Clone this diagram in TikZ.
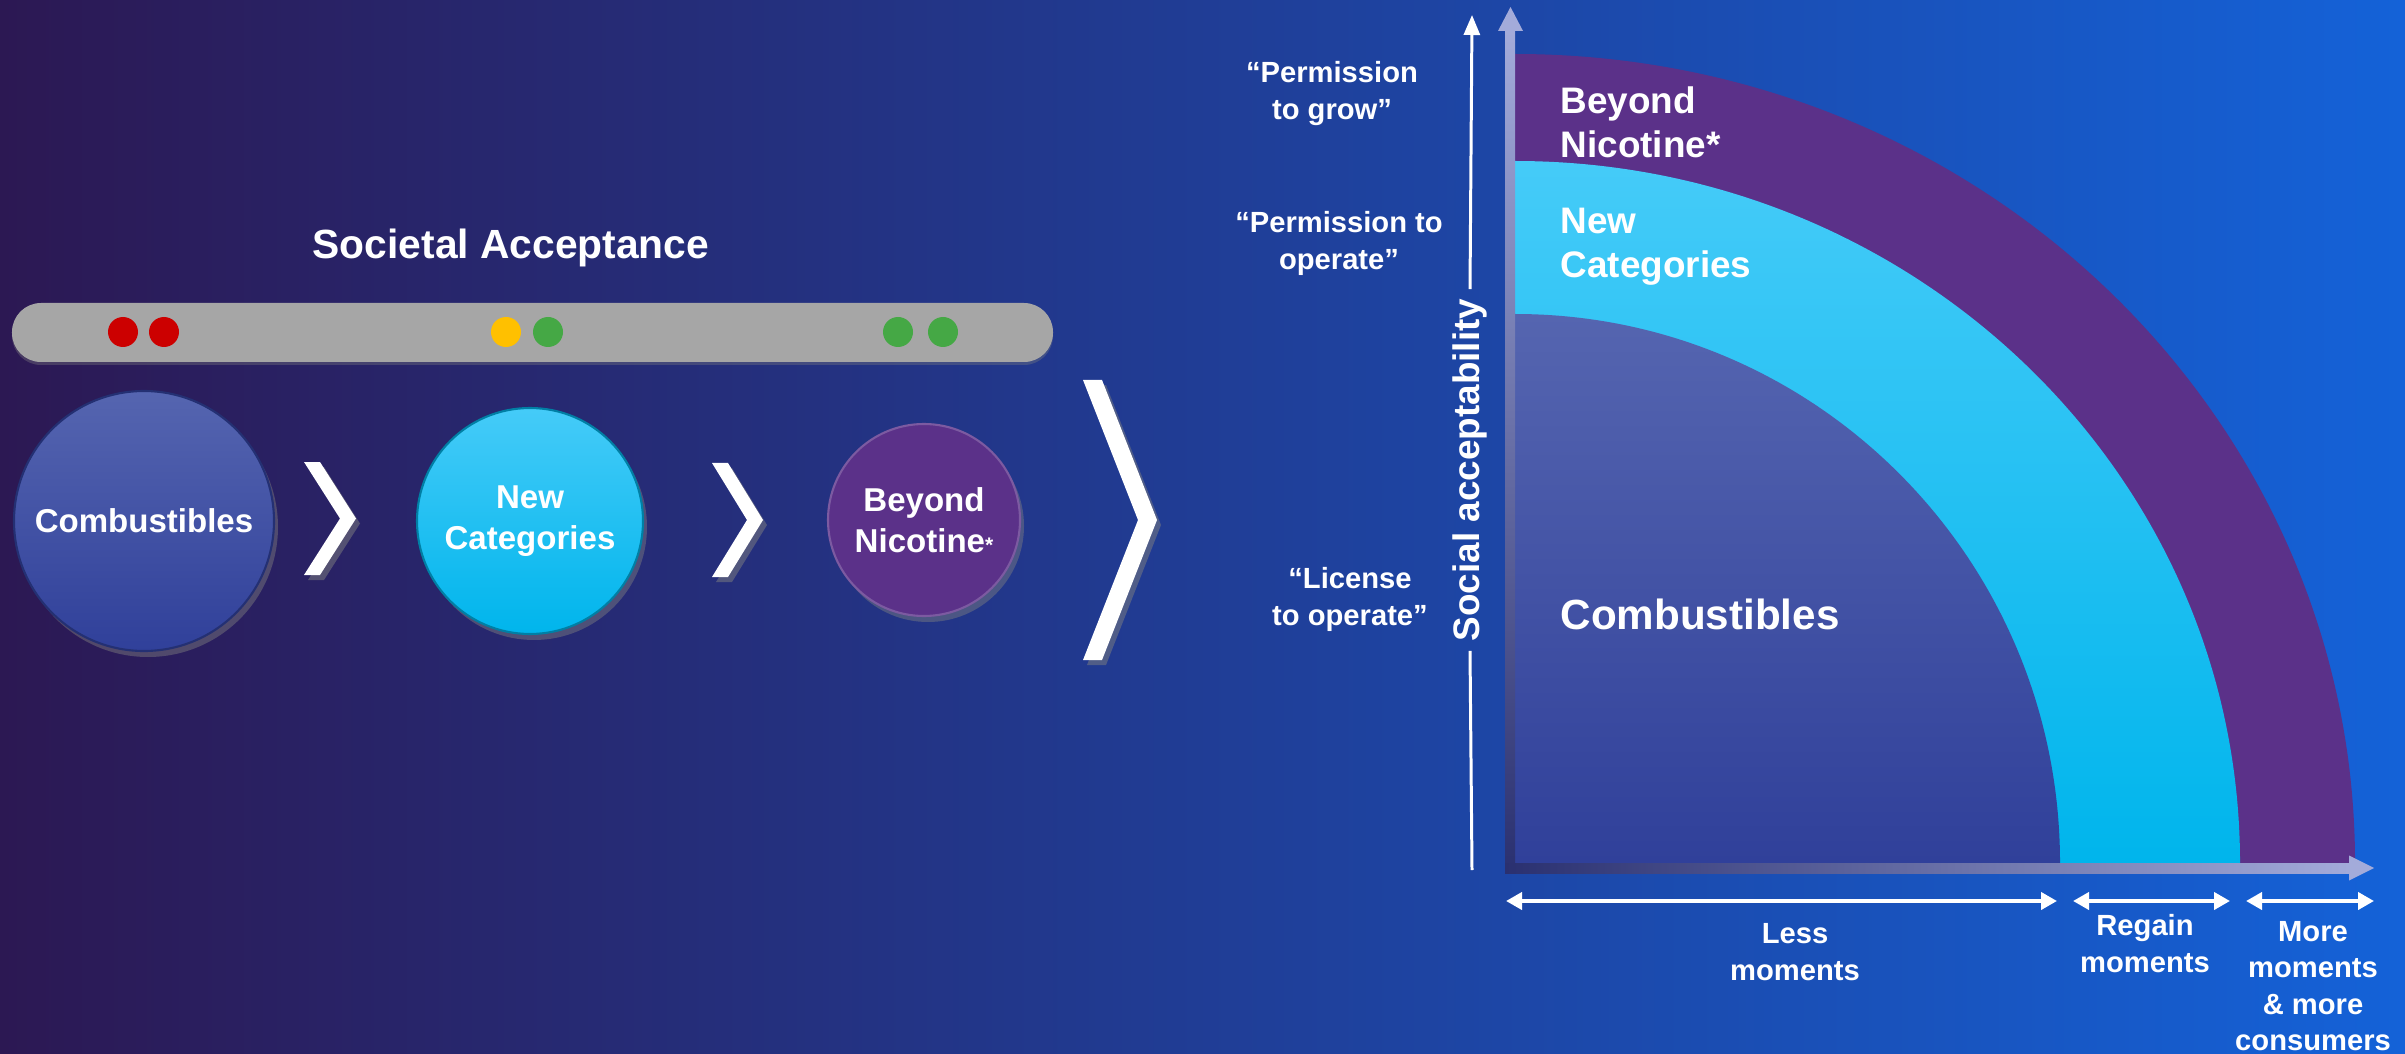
\documentclass[tikz,border=0pt]{standalone}
\usepackage{fontspec}
\setmainfont{Liberation Sans}
\usetikzlibrary{calc,shadows,arrows.meta}

\definecolor{bgleft}{HTML}{2C1853}
\definecolor{bgmid}{HTML}{20347A}
\definecolor{bgright}{HTML}{1462D8}
\definecolor{barGray}{HTML}{A6A6A6}
\definecolor{dotred}{HTML}{CC0000}
\definecolor{dotamber}{HTML}{FFC000}
\definecolor{dotgreen}{HTML}{45A845}
\definecolor{combTop}{HTML}{5565B0}
\definecolor{combBot}{HTML}{30409A}
\definecolor{ncTop}{HTML}{45CBF8}
\definecolor{ncBot}{HTML}{00B5EC}
\definecolor{bnFill}{HTML}{5B3189}
\definecolor{axisDark}{HTML}{2A3070}
\definecolor{axisLight}{HTML}{A3ABDA}

\def\chevron(#1)(#2:#3:#4){\fill[white, drop shadow={opacity=0.5, shadow xshift=0.04cm, shadow yshift=-0.05cm}] ($(#1)+(0,#2)$) -- ($(#1)+(#4,#2)$) -- ($(#1)+(#3,0)$) -- ($(#1)+(#4,-#2)$) -- ($(#1)+(0,-#2)$) -- ($(#1)+(#3-#4,0)$) -- cycle;}

\tikzset{
  bubble/.style={circle, inner sep=0, text=white, align=center, line width=0.6pt,
    font=\bfseries\fontsize{9.4}{11.7}\selectfont,
    drop shadow={opacity=0.45, shadow xshift=0.04cm, shadow yshift=-0.06cm}},
  axislab/.style={text=white, align=center, inner sep=0, font=\bfseries\fontsize{8.3}{10.4}\selectfont},
  bandlab/.style={text=white, align=left, anchor=west, inner sep=0, font=\bfseries\fontsize{10.5}{12.6}\selectfont},
  span/.style={white, line width=1.1pt, {Triangle[length=0.16cm,width=0.17cm]}-{Triangle[length=0.16cm,width=0.17cm]}},
}

\begin{document}
\begin{tikzpicture}
			%%%%% START %%%%%
			
			\useasboundingbox (0,0) rectangle (24.05,10.53);
			\shade[left color=bgleft, middle color=bgmid, right color=bgright] (0,0) rectangle (24.05,10.53);
			
			% left: societal acceptance
			\node[text=white, font=\bfseries\fontsize{11.6}{14}\selectfont] (title) at (5.11,8.05) {Societal Acceptance};
			\fill[barGray, rounded corners=0.29cm, drop shadow={opacity=0.35, shadow xshift=0cm, shadow yshift=-0.03cm}] (0.12,6.91) rectangle (10.53,7.50);
			\foreach \x/\c in {1.23/dotred, 1.64/dotred, 5.06/dotamber, 5.48/dotgreen, 8.98/dotgreen, 9.43/dotgreen}
				\fill[\c] (\x,7.21) circle (0.15);
			
			\node[bubble, minimum size=2.60cm, top color=combTop, bottom color=combBot, draw=combBot!75!black] (comb) at (1.44,5.32) {Combustibles};
			\node[bubble, minimum size=2.26cm, top color=ncTop, bottom color=ncBot, draw=ncBot!70!black] (newcat) at (5.30,5.32) {New\\Categories};
			\node[bubble, minimum size=1.92cm, fill=bnFill, draw=bnFill!80!white] (beyond) at (9.24,5.33) {Beyond\\Nicotine{\fontsize{6}{6}\selectfont*}};
			
			\chevron(3.04,5.345)(0.565:0.52:0.16)
			\chevron(7.12,5.33)(0.57:0.51:0.16)
			\chevron(10.83,5.33)(1.40:0.74:0.19)
			
			% right: quarter bands
			\fill[bnFill] (15.15,1.90) -- (15.15,9.99) arc[start angle=90, end angle=0, x radius=8.40cm, y radius=8.09cm] -- cycle;
			\shade[top color=ncTop, bottom color=ncBot] (15.15,1.90) -- (15.15,8.92) arc[start angle=90, end angle=0, x radius=7.25cm, y radius=7.02cm] -- cycle;
			\shade[top color=combTop, bottom color=combBot] (15.15,1.90) -- (15.15,7.39) arc[start angle=90, end angle=0, x radius=5.45cm, y radius=5.49cm] -- cycle;
			
			\node[bandlab] (bnlab) at (15.60,9.31) {Beyond\\Nicotine*};
			\node[bandlab] (nclab) at (15.60,8.06) {New\\Categories};
			\node[bandlab, font=\bfseries\fontsize{12}{14}\selectfont] (comblab) at (15.60,4.39) {Combustibles};
			
			% thick axes
			\shade[bottom color=axisDark, top color=axisLight] (15.05,1.80) rectangle (15.15,10.22);
			\fill[axisLight] (14.98,10.22) -- (15.23,10.22) -- (15.105,10.46) -- cycle;
			\shade[left color=axisDark, right color=axisLight] (15.05,1.80) rectangle (23.49,1.90);
			\fill[axisLight] (23.49,1.725) -- (23.49,1.975) -- (23.74,1.85) -- cycle;
			
			% thin acceptability arrow
			\coordinate (ybot) at (14.72,1.83);
			\coordinate (ytop) at (14.72,10.38);
			\node[rotate=90, text=white, inner sep=0.09cm, font=\bfseries\fontsize{10.5}{12}\selectfont] (socacc) at (14.70,5.83) {Social acceptability};
			\draw[white, line width=0.85pt] (ybot) -- (socacc.west);
			\draw[white, line width=0.85pt, -{Triangle[length=0.2cm,width=0.16cm]}] (socacc.east) -- (ytop);
			
			\node[axislab] (grow) at (13.32,9.595) {“Permission\\to grow”};
			\node[axislab] (operate) at (13.39,8.095) {“Permission to\\operate”};
			\node[axislab] (license) at (13.50,4.535) {“License\\to operate”};
			
			% moments spans
			\coordinate (less1) at (15.06,1.52);
			\coordinate (less2) at (20.57,1.52);
			\coordinate (regain1) at (20.73,1.52);
			\coordinate (regain2) at (22.30,1.52);
			\coordinate (more1) at (22.46,1.52);
			\coordinate (more2) at (23.74,1.52);
			\draw[span] (less1) -- (less2);
			\draw[span] (regain1) -- (regain2);
			\draw[span] (more1) -- (more2);
			
			\node[axislab] (lesslab) at (17.95,1.01) {Less\\moments};
			\node[axislab] (regainlab) at (21.45,1.095) {Regain\\moments};
			\node[axislab] (morelab) at (23.13,0.67) {More\\moments\\\& more\\consumers};
			
			%%%%% END %%%%%
\end{tikzpicture}
\end{document}
